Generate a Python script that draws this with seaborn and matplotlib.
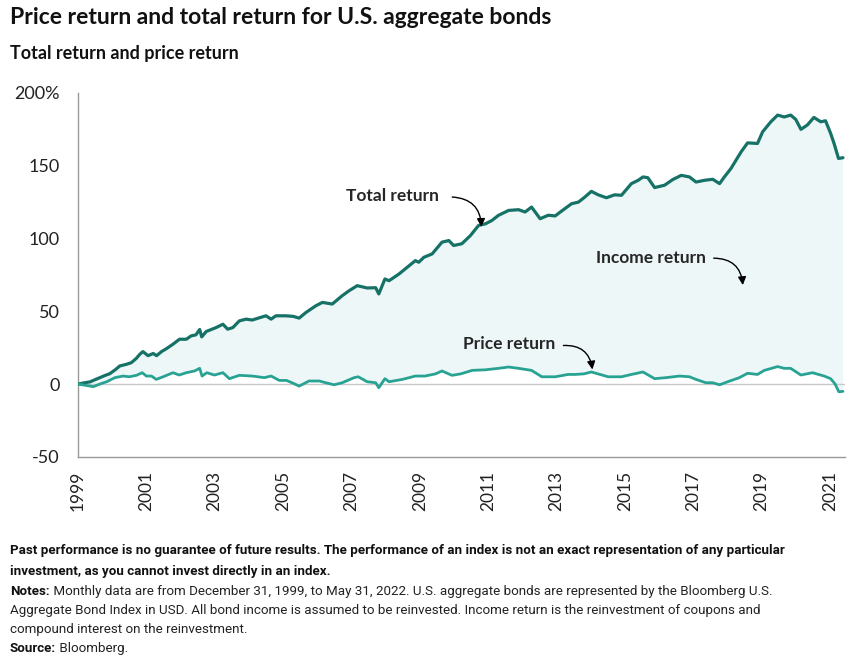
import numpy as np
import matplotlib
matplotlib.use("Agg")
import matplotlib.pyplot as plt
import seaborn as sns

# Total return (cumulative %)
total_years = [1999.0, 1999.2, 1999.35, 1999.5, 1999.64, 1999.8, 1999.93, 2000.1, 2000.22, 2000.42,
               2000.56, 2000.7, 2000.81, 2000.9, 2001.05, 2001.2, 2001.3, 2001.45, 2001.6, 2001.78,
               2001.97, 2002.17, 2002.31, 2002.45, 2002.56, 2002.62, 2002.75, 2003.04, 2003.24, 2003.38,
               2003.53, 2003.72, 2003.92, 2004.1, 2004.3, 2004.5, 2004.65, 2004.79, 2005.08, 2005.3,
               2005.47, 2005.67, 2005.96, 2006.15, 2006.44, 2006.73, 2006.93, 2007.17, 2007.46, 2007.71,
               2007.8, 2007.98, 2008.1, 2008.39, 2008.63, 2008.87, 2008.97, 2009.12, 2009.36, 2009.65,
               2009.85, 2009.99, 2010.23, 2010.48, 2010.72, 2010.92, 2011.11, 2011.3, 2011.6, 2011.89,
               2012.08, 2012.27, 2012.52, 2012.76, 2012.96, 2013.15, 2013.44, 2013.64, 2013.83, 2014.02,
               2014.22, 2014.46, 2014.7, 2014.9, 2015.19, 2015.39, 2015.53, 2015.67, 2015.87, 2016.16,
               2016.4, 2016.65, 2016.89, 2017.08, 2017.33, 2017.57, 2017.77, 2017.91, 2018.1, 2018.4,
               2018.59, 2018.88, 2019.03, 2019.27, 2019.47, 2019.66, 2019.85, 2020.0, 2020.15, 2020.34,
               2020.53, 2020.73, 2020.87, 2021.02, 2021.12, 2021.25, 2021.38]
total_values = [0, 0.9, 1.5, 3.0, 4.4, 6.0, 7.1, 10.0, 12.4, 13.6,
                14.7, 17.5, 20.5, 22.3, 19.5, 21.0, 19.5, 22.4, 24.5, 27.4,
                30.8, 30.8, 33.1, 33.8, 37.5, 32.4, 36.1, 38.8, 41.1, 37.7,
                38.8, 43.4, 44.6, 44.0, 45.5, 46.9, 44.6, 46.9, 46.9, 46.5,
                45.3, 49.2, 53.8, 56.1, 55.0, 60.7, 64.1, 67.6, 66.0, 66.2,
                61.9, 72.2, 71.0, 75.6, 80.2, 84.8, 83.7, 87.1, 89.4, 97.5,
                98.6, 95.2, 96.4, 102.0, 109.0, 110.1, 112.4, 115.9, 119.3, 119.8,
                118.2, 121.6, 113.6, 116.0, 115.5, 118.9, 123.9, 125.0, 128.5, 132.4,
                130.0, 128.0, 130.0, 129.7, 137.7, 140.0, 142.3, 141.8, 135.0, 136.6,
                140.5, 143.4, 142.3, 138.8, 140.0, 140.7, 137.7, 142.3, 148.0, 159.5,
                165.7, 165.3, 173.3, 180.2, 184.8, 183.5, 184.8, 181.8, 175.0, 178.0,
                183.2, 180.2, 180.9, 172.2, 165.3, 155.0, 155.5]

# Price return (cumulative %)
price_years = [1999.0, 1999.25, 1999.45, 1999.64, 1999.84, 2000.08, 2000.32, 2000.5, 2000.71, 2000.88,
               2001.0, 2001.15, 2001.29, 2001.49, 2001.78, 2001.96, 2002.17, 2002.41, 2002.56, 2002.63,
               2002.77, 2002.99, 2003.24, 2003.43, 2003.72, 2004.1, 2004.45, 2004.65, 2004.89, 2005.1,
               2005.3, 2005.47, 2005.76, 2006.06, 2006.25, 2006.49, 2006.73, 2007.08, 2007.2, 2007.46,
               2007.71, 2007.8, 2007.98, 2008.1, 2008.49, 2008.87, 2009.15, 2009.46, 2009.65, 2009.94,
               2010.2, 2010.53, 2010.92, 2011.3, 2011.6, 2011.89, 2012.27, 2012.57, 2012.96, 2013.34,
               2013.54, 2013.8, 2014.02, 2014.51, 2014.9, 2015.19, 2015.53, 2015.87, 2016.2, 2016.6,
               2016.89, 2017.08, 2017.37, 2017.57, 2017.77, 2018.01, 2018.35, 2018.59, 2018.88, 2019.08,
               2019.47, 2019.66, 2019.85, 2020.15, 2020.49, 2020.83, 2021.02, 2021.15, 2021.26, 2021.38]
price_values = [0, -1.0, -1.8, 0, 1.6, 4.4, 5.5, 5.0, 6.0, 7.8,
                5.5, 5.5, 3.2, 5.0, 7.8, 6.2, 7.8, 9.0, 10.8, 5.5,
                7.8, 6.2, 7.8, 3.7, 6.0, 5.5, 4.4, 5.5, 2.5, 2.5,
                0.5, -1.4, 2.1, 2.1, 0.9, -0.5, 0.9, 4.4, 5.0, 1.6,
                0.9, -2.5, 3.7, 1.6, 3.2, 5.5, 5.5, 7.0, 9.0, 6.0,
                7.0, 9.4, 9.8, 10.8, 11.7, 10.8, 9.4, 5.0, 5.0, 6.6,
                6.6, 7.0, 8.3, 5.0, 5.0, 6.6, 8.3, 3.7, 4.4, 5.5,
                5.0, 3.2, 0.9, 0.9, -0.5, 1.6, 4.4, 7.4, 6.6, 9.4,
                12.0, 10.8, 10.8, 6.2, 7.8, 5.5, 3.7, 0.0, -5.3, -5.0]

year_ticks = list(range(1999, 2022, 2))
y_ticks = [-50, 0, 50, 100, 150, 200]
y_labels = ["-50", "0", "50", "100", "150", "200%"]

sns.set_style("white")
plt.rcParams["font.family"] = ["Lato", "DejaVu Sans"]

total_color = "#167267"
price_color = "#28a393"
fill_color = "#eef7f8"
axis_grey = "#9a9a9a"

fig = plt.figure(figsize=(8.57, 6.64), dpi=100)
ax = fig.add_axes([0.091, 0.312, 0.895, 0.548])

# shaded income region between the two lines
ax.fill(np.r_[total_years, price_years[::-1]], np.r_[total_values, price_values[::-1]],
        color=fill_color, lw=0, zorder=1)
ax.axhline(0, color="#c8c8c8", lw=1, zorder=2)

sns.lineplot(x=total_years, y=total_values, ax=ax, color=total_color, lw=2.3, zorder=3)
sns.lineplot(x=price_years, y=price_values, ax=ax, color=price_color, lw=2.0, zorder=3)

ax.set_xlim(1999, 2021.44)
ax.set_ylim(-50, 200)
ax.set_xticks(year_ticks)
ax.set_xticklabels([str(y) for y in year_ticks], rotation=90, fontsize=12.5, color="#222222")
ax.set_yticks(y_ticks)
ax.set_yticklabels(y_labels, fontsize=13, color="#222222")
ax.tick_params(axis="both", length=6, width=1, color=axis_grey, direction="out", pad=4)
ax.tick_params(axis="y", pad=7)
for s in ["top", "right"]:
    ax.spines[s].set_visible(False)
for s in ["left", "bottom"]:
    ax.spines[s].set_color(axis_grey)
    ax.spines[s].set_linewidth(1)

# annotations
arrow = dict(arrowstyle="-|>", color="black", lw=1, connectionstyle="arc3,rad=-0.45",
             shrinkA=0, shrinkB=0, mutation_scale=12)
ax.annotate("", xy=(2010.8, 108), xytext=(2009.95, 128.5), arrowprops=arrow)
ax.text(2008.2, 129.5, "Total return", ha="center", va="center", fontsize=12.5, fontweight="bold")
ax.annotate("", xy=(2018.45, 68), xytext=(2017.6, 86.5), arrowprops=arrow)
ax.text(2015.75, 86.5, "Income return", ha="center", va="center", fontsize=12.5, fontweight="bold")
ax.annotate("", xy=(2014.05, 10), xytext=(2013.2, 26.5), arrowprops=arrow)
ax.text(2011.6, 27.5, "Price return", ha="center", va="center", fontsize=12.5, fontweight="bold")

# titles
fig.text(10 / 857, 1 - 17 / 664, "Price return and total return for U.S. aggregate bonds",
         ha="left", va="center", fontsize=16.5, fontweight="bold", color="#111111")
fig.text(10 / 857, 1 - 53 / 664, "Total return and price return",
         ha="left", va="center", fontsize=13, fontweight="bold", color="#111111")

# footnotes
foot_font = ["Roboto", "DejaVu Sans"]
fs = 9.6
x0 = 10 / 857
renderer = fig.canvas.get_renderer()


def foot(y, bold, rest=None):
    yb = 1 - (y + 4) / 664
    t = fig.text(x0, yb, bold, ha="left", va="baseline", fontsize=fs,
                 fontweight="bold", family=foot_font, color="#111111")
    if rest:
        bb = t.get_window_extent(renderer=renderer)
        fig.text(bb.x1 / fig.bbox.width, yb, rest, ha="left", va="baseline", fontsize=fs,
                 family=foot_font, color="#222222")


def plain(y, s):
    fig.text(x0, 1 - (y + 4) / 664, s, ha="left", va="baseline", fontsize=fs,
             family=foot_font, color="#222222")


foot(550, "Past performance is no guarantee of future results. The performance of an index is not an exact representation of any particular")
foot(571, "investment, as you cannot invest directly in an index.")
foot(591, "Notes:", " Monthly data are from December 31, 1999, to May 31, 2022. U.S. aggregate bonds are represented by the Bloomberg U.S.")
plain(610, "Aggregate Bond Index in USD. All bond income is assumed to be reinvested. Income return is the reinvestment of coupons and")
plain(629, "compound interest on the reinvestment.")
foot(648, "Source:", " Bloomberg.")

fig.savefig("out.png", dpi=100)
